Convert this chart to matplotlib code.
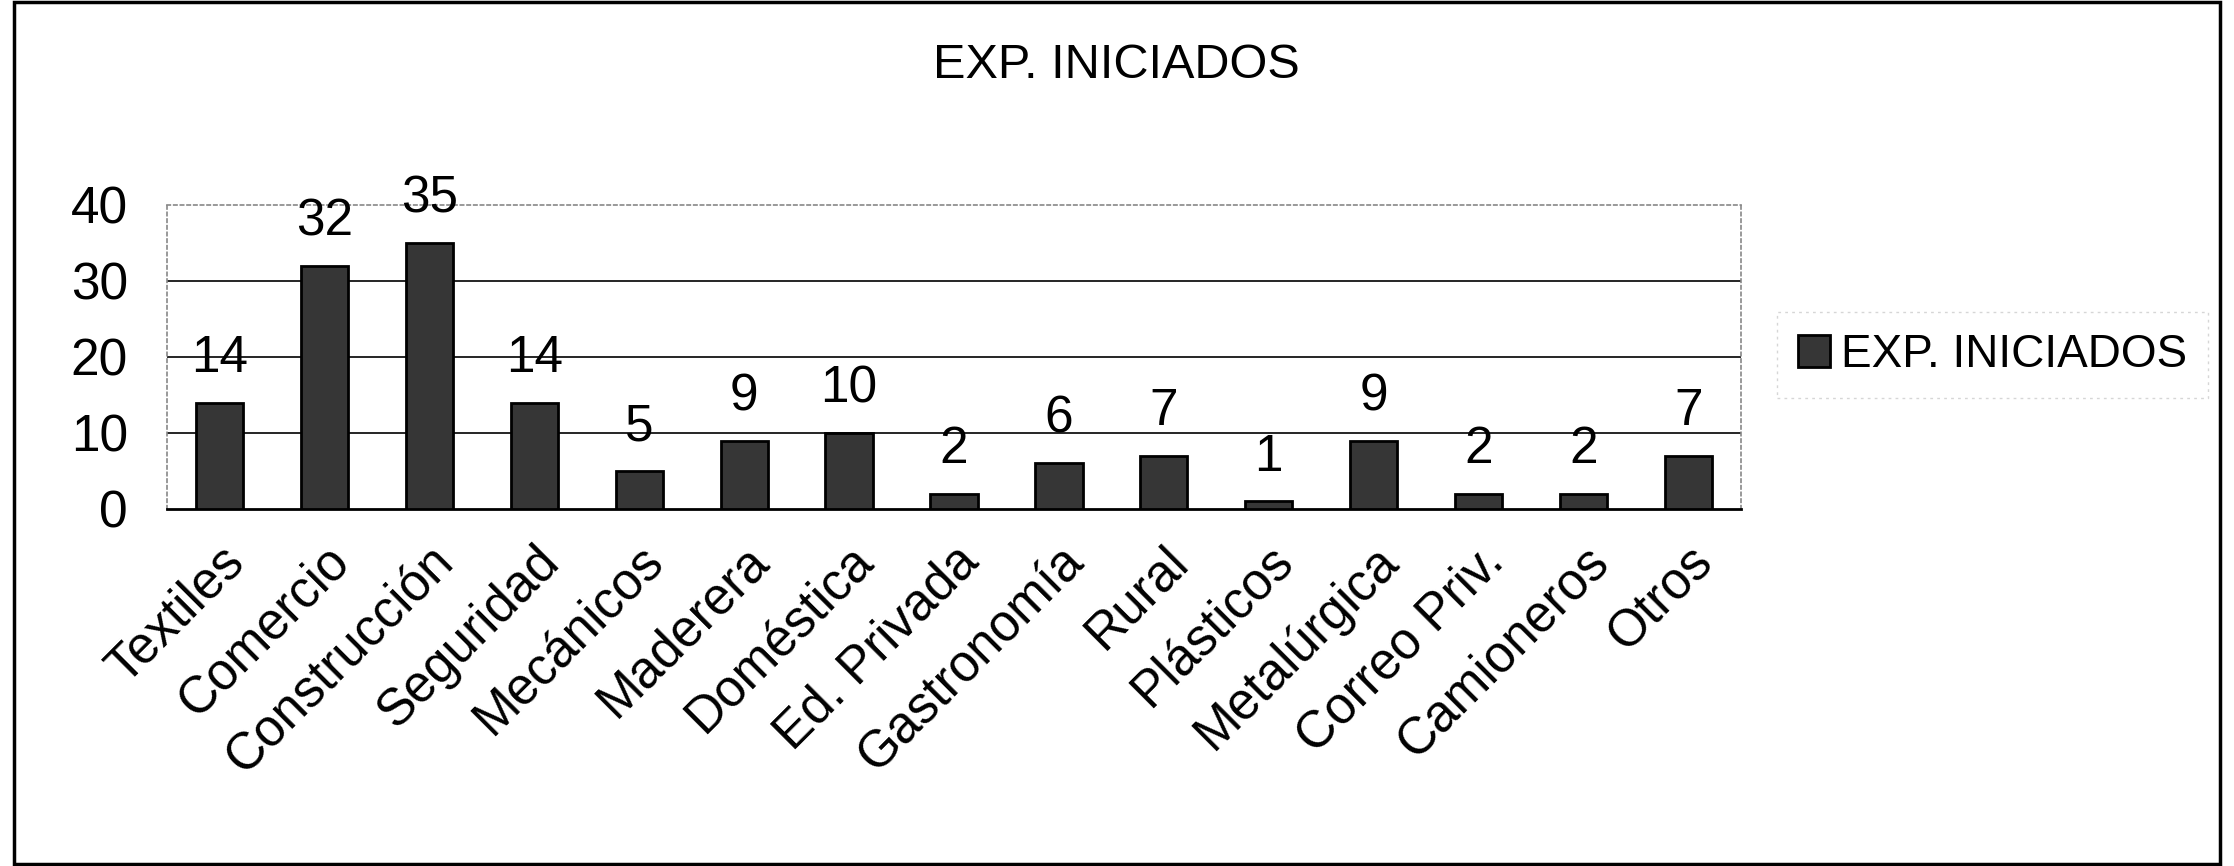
import matplotlib
matplotlib.use("Agg")
import matplotlib.pyplot as plt
from matplotlib.patches import Rectangle

categories = ["Textiles", "Comercio", "Construcción", "Seguridad", "Mecánicos",
              "Maderera", "Doméstica", "Ed. Privada", "Gastronomía", "Rural",
              "Plásticos", "Metalúrgica", "Correo Priv.", "Camioneros", "Otros"]
values = [14, 32, 35, 14, 5, 9, 10, 2, 6, 7, 1, 9, 2, 2, 7]
yticks = [0, 10, 20, 30, 40]
series_name = "EXP. INICIADOS"
title = "EXP. INICIADOS"

plt.rcParams['font.family'] = ['Liberation Sans', 'DejaVu Sans']

fig = plt.figure(figsize=(22.34, 8.66), dpi=100)
ax = fig.add_axes([167/2234, 1-509/866, (1741-167)/2234, (509-205)/866])

x = list(range(len(categories)))
bars = ax.bar(x, values, width=0.45, color='#363636', edgecolor='black',
              linewidth=2, label=series_name, zorder=3)

for xi, v in zip(x, values):
    ax.annotate(str(v), (xi, v), xytext=(0, 14), textcoords='offset points',
                ha='center', va='bottom', fontsize=37, zorder=4)

ax.set_xlim(-0.5, len(categories) - 0.5)
ax.set_ylim(0, 40)
ax.set_yticks(yticks)
ax.set_yticklabels([str(t) for t in yticks], fontsize=37)
ax.set_xticks(x)
ax.set_xticklabels(categories, fontsize=37, rotation=45, ha='right', va='top',
                   rotation_mode='anchor')
ax.tick_params(axis='x', length=0, pad=20)
ax.tick_params(axis='y', length=0, pad=28)

for t in [10, 20, 30]:
    ax.axhline(t, color='black', linewidth=1.2, zorder=1)

for side in ['top', 'left', 'right']:
    ax.spines[side].set_color('#888888')
    ax.spines[side].set_linestyle((0, (2, 2)))
    ax.spines[side].set_linewidth(1.2)
ax.spines['bottom'].set_color('black')
ax.spines['bottom'].set_linewidth(2)

fig.text(1116/2234, 1-66/866, title, ha='center', va='center', fontsize=35)

leg = fig.legend(handles=[bars], labels=[series_name], loc='center left',
                 bbox_to_anchor=(1768/2234, 1-355/866), fontsize=33,
                 frameon=True, fancybox=False, handlelength=0.7, handleheight=0.7,
                 handletextpad=0.25, borderpad=0.45, borderaxespad=0.2)
leg.get_frame().set_edgecolor('#cccccc')
leg.get_frame().set_linestyle((0, (2, 3)))
leg.get_frame().set_linewidth(1)

fig.add_artist(Rectangle((14/2234, 2/866), (2220-14)/2234, (864-2)/866,
                         transform=fig.transFigure, fill=False,
                         edgecolor='black', linewidth=2.5))

fig.savefig("out.png", dpi=100, facecolor='white')
